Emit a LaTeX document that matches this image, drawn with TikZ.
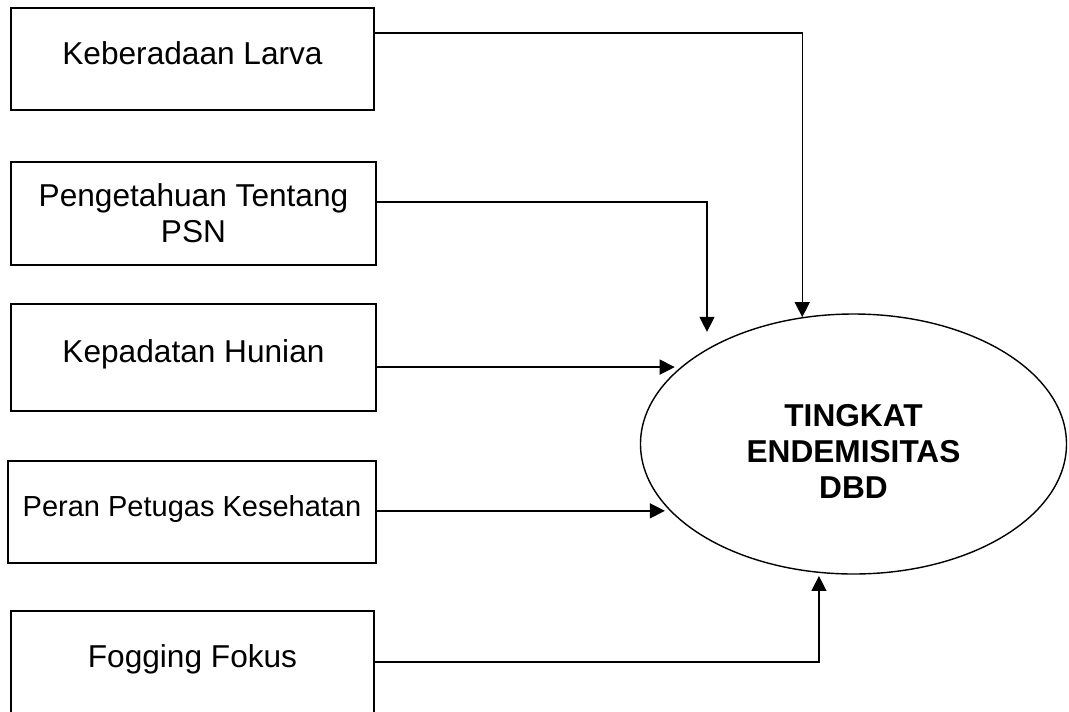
\documentclass[tikz,border=0pt]{standalone}
\usepackage{fontspec}
\setmainfont{Liberation Sans}
\usepackage{tikz}
\usetikzlibrary{shapes,arrows,arrows.meta,positioning}

\tikzset{
    factor/.style={
        draw,
        line width=0.8pt,
        minimum width=7.3cm,
        minimum height=2.04cm,
        inner sep=0pt,
        align=center,
        font=\fontsize{18}{20.5}\selectfont
    },
    onerow/.style={text depth=0.25cm},
    outcome/.style={
        draw,
        ellipse,
        line width=0.8pt,
        minimum width=8.52cm,
        minimum height=5.2cm,
        inner sep=0pt
    },
    outcometext/.style={
        align=center,
        inner sep=0pt,
        font=\bfseries\fontsize{18}{20.5}\selectfont
    },
    link/.style={
        -{Triangle[length=0.3cm,width=0.3cm]},
        line width=0.8pt
    }
}

\begin{document}
\begin{tikzpicture}
                \useasboundingbox (0,0) rectangle (21.38,-14.22);

                \node[factor, onerow, minimum width=7.26cm] (larva) at (3.85,-1.18) {Keberadaan Larva};
                \node[factor, minimum height=2.06cm] (psn) at (3.87,-4.27) {Pengetahuan Tentang\\PSN};
                \node[factor, onerow, minimum height=2.14cm] (hunian) at (3.87,-7.15) {Kepadatan Hunian};
                \node[
                    factor,
                    onerow,
                    minimum width=7.36cm,
                    font=\fontsize{16.5}{19}\selectfont
                    ] (petugas) at (3.84,-10.24) {Peran Petugas Kesehatan};
                \node[factor, onerow, minimum width=7.26cm] (fogging) at (3.85,-13.24) {Fogging Fokus};

                \node[outcome] (dbd) at (17.07,-8.88) {};
                \node[outcometext] (dbdtext) at ([yshift=-0.15cm]dbd.center) {TINGKAT\\ENDEMISITAS\\DBD};

                \draw[link] ([yshift=0.52cm]larva.east) -| (dbd.112);

                \draw[
                    link,
                    shorten >=0.34cm
                ] ([yshift=0.23cm]psn.east) -| (dbd.147);

                \draw[
                    link,
                    shorten >=0.12cm
                ] (hunian.east |- dbd.156) -- (dbd.156);

                \draw[
                    link,
                    shorten >=0.1cm
                ] (petugas.east |- dbd.200) -- (dbd.200);

                \draw[
                    link,
                    shorten >=0.06cm
                ] (fogging.east) -| (dbd.255);

            \end{tikzpicture}
\end{document}
